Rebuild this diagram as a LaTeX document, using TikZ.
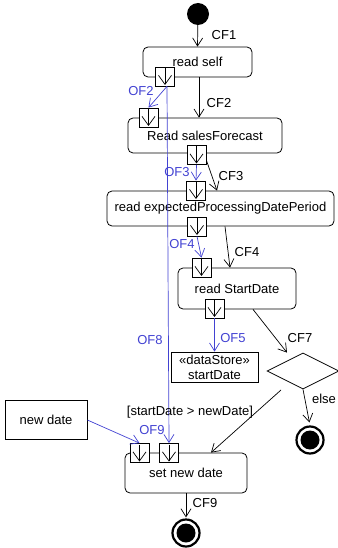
\documentclass[tikz,border=0pt]{standalone}
\usepackage{fontspec}
\setmainfont{Liberation Sans}
\usetikzlibrary{arrows.meta,shapes.geometric}
\definecolor{ofblue}{RGB}{66,66,210}
\begin{document}
\begin{tikzpicture}[x=1pt,y=-1pt,
  font=\fontsize{13}{15}\selectfont,
  act/.style={draw,rounded corners=5pt,line width=0.8pt,inner sep=0pt,fill=white},
  plainbox/.style={draw,line width=0.8pt,inner sep=0pt,fill=white},
  pinbox/.style={draw,fill=white,minimum size=19pt,inner sep=0pt,line width=0.8pt,
     path picture={\draw[black,line width=0.7pt,-{Straight Barb[length=9pt,width=13pt]}]
        ([yshift=-1pt]path picture bounding box.north) -- ([yshift=1pt]path picture bounding box.south);}},
  initnode/.style={circle,fill=black,minimum size=22pt,inner sep=0pt},
  finalnode/.style={circle,draw,line width=2.2pt,minimum size=27pt,inner sep=0pt,fill=white,
     path picture={\fill[black] (path picture bounding box.center) circle (9.5pt);}},
  decnode/.style={diamond,draw,line width=0.8pt,minimum width=72pt,minimum height=36pt,inner sep=0pt,aspect=2},
  cf/.style={draw,line width=0.7pt,-{Straight Barb[length=8pt,width=10pt]}},
  of/.style={cf,draw=ofblue},
  lbl/.style={inner sep=0pt},
  oflbl/.style={lbl,text=ofblue}
]
\useasboundingbox (0,0) rectangle (337,548);

% activity boxes
\node[initnode] (init) at (198,14) {};
\node[act,minimum width=109pt,minimum height=30pt] (rs) at (197.5,62) {read self};
\node[act,minimum width=154pt,minimum height=35pt] (sf) at (205,135.5) {Read salesForecast};
\node[act,minimum width=227pt,minimum height=35pt] (ep) at (220.5,208.5) {read expectedProcessingDatePeriod};
\node[act,minimum width=118pt,minimum height=41pt] (sd) at (237,288.5) {read StartDate};
\node[plainbox,minimum width=87pt,minimum height=30pt,align=center] (ds) at (214.5,367) {«dataStore»\\startDate};
\node[decnode] (dec) at (303,371) {};
\node[finalnode] (fin1) at (310,440) {};
\node[plainbox,minimum width=82pt,minimum height=39pt] (nd) at (46,420) {new date};
\node[act,minimum width=122pt,minimum height=40pt] (snd) at (186,473) {set new date};
\node[finalnode] (fin2) at (186,533) {};
\coordinate (gs) at (281,390);

% control flows
\draw[cf] (init) -- (rs.north);
\draw[cf] ([xshift=1.5pt]rs.south) -- ([xshift=-6pt]sf.north);
\draw[cf] ([xshift=-1pt]sf.south) -- ([xshift=-3.5pt]ep.north);
\draw[cf] ([xshift=4.5pt]ep.south) -- ([xshift=-7pt]sd.north);
\draw[cf] ([xshift=16pt]sd.south) -- ([xshift=-16pt]dec.north);
\draw[cf,shorten >=3pt] (dec.south) -- (fin1.north);
\draw[cf] (gs) -- ([xshift=25pt]snd.north);
\draw[cf,shorten >=1pt] (snd.south) -- (fin2.north);

% pins
\node[pinbox] (rsp) at (165,76.5) {};
\node[pinbox] (sfpi) at (148.5,117.5) {};
\node[pinbox] (sfpo) at (196.5,155) {};
\node[pinbox] (eppi) at (196,190.5) {};
\node[pinbox] (eppo) at (197,226.5) {};
\node[pinbox] (sdpi) at (201.5,267.5) {};
\node[pinbox] (sdpo) at (214.5,308.5) {};
\node[pinbox] (sndp1) at (139.5,453) {};
\node[pinbox] (sndp2) at (169,453) {};

% object flows
\draw[of] ([xshift=2pt]rsp.south) -- (sfpi.north);
\draw[of] ([xshift=2pt]rsp.south) -- (sndp2.north);
\draw[of] (sfpo.south) -- (eppi.north);
\draw[of] (eppo.south) -- (sdpi.north);
\draw[of] (sdpo.south) -- (ds.north);
\draw[of] (nd.east) -- (sndp1.north);

% labels
\node[lbl] (lcf1) at (224,35) {CF1};
\node[lbl] (lcf2) at (219,103) {CF2};
\node[oflbl] (lof2) at (141,91) {OF2};
\node[oflbl] (lof3) at (177,172) {OF3};
\node[lbl] (lcf3) at (231,176) {CF3};
\node[oflbl] (lof4) at (182,244) {OF4};
\node[lbl] (lcf4) at (247,252) {CF4};
\node[oflbl] (lof5) at (233,338) {OF5};
\node[lbl] (lcf7) at (300,338) {CF7};
\node[oflbl] (lof8) at (150,340) {OF8};
\node[lbl] (lelse) at (324,399) {else};
\node[lbl] (lguard) at (190,412) {[startDate > newDate]};
\node[oflbl] (lof9) at (152,430) {OF9};
\node[lbl] (lcf9) at (205,503) {CF9};
\end{tikzpicture}
\end{document}
